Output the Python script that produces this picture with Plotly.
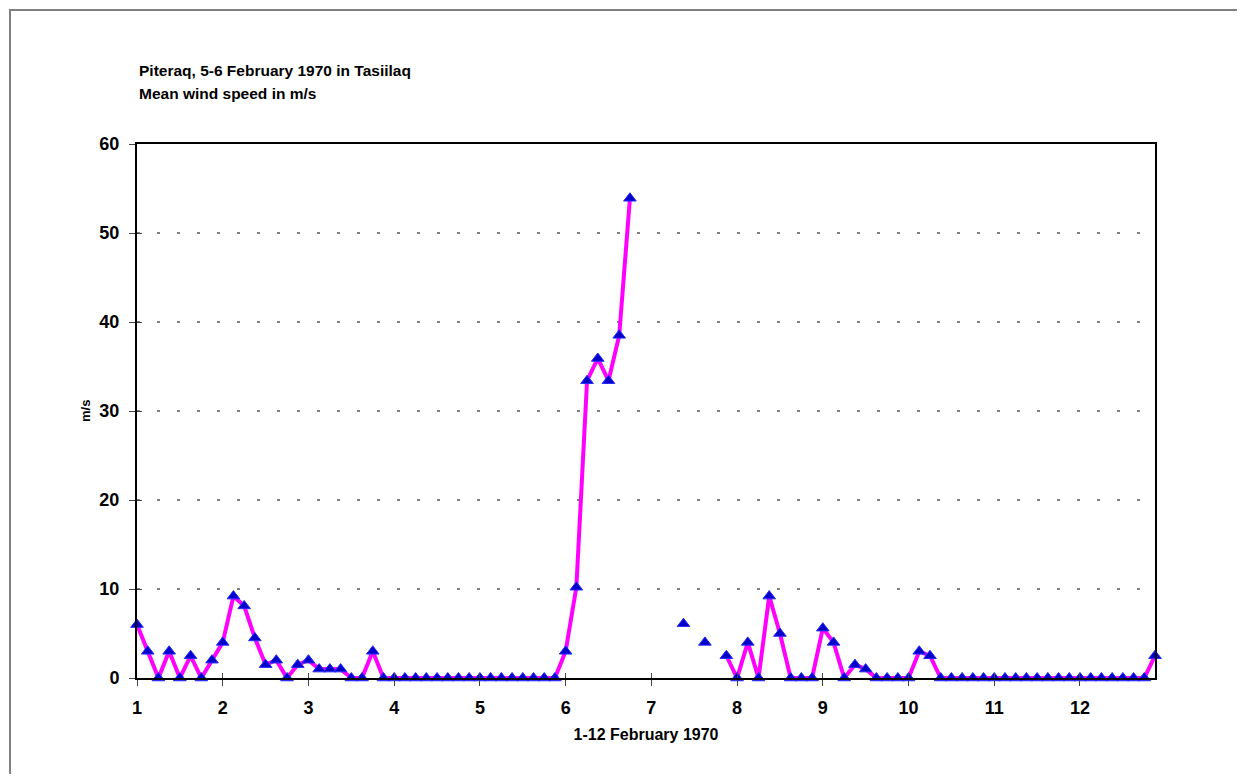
import plotly.graph_objects as go

# 3-hourly mean wind speed (m/s), 1-12 February 1970, Tasiilaq (8 obs per day)
wind = [
    6.0, 3.0, 0, 3.0, 0, 2.5, 0, 2.0,          # 1
    4.0, 9.2, 8.1, 4.5, 1.5, 2.0, 0, 1.5,      # 2
    2.0, 1.0, 1.0, 1.0, 0, 0, 3.0, 0,          # 3
    0, 0, 0, 0, 0, 0, 0, 0,                    # 4
    0, 0, 0, 0, 0, 0, 0, 0,                    # 5
    3.0, 10.2, 33.4, 35.9, 33.4, 38.5, 53.9, None,  # 6
    None, None, None, 6.1, None, 4.0, None, 2.5,    # 7
    0, 4.0, 0, 9.2, 5.0, 0, 0, 0,              # 8
    5.6, 4.0, 0, 1.5, 1.0, 0, 0, 0,            # 9
    0, 3.0, 2.5, 0, 0, 0, 0, 0,                # 10
    0, 0, 0, 0, 0, 0, 0, 0,                    # 11
    0, 0, 0, 0, 0, 0, 0, 2.5,                  # 12
]
day_ticks = [1, 2, 3, 4, 5, 6, 7, 8, 9, 10, 11, 12]
y_ticks = [0, 10, 20, 30, 40, 50, 60]
title_lines = ["Piteraq, 5-6 February 1970 in Tasiilaq", "Mean wind speed in m/s"]

obs_per_day = 8
x = [1 + i / obs_per_day for i in range(len(wind))]

# page body has an 8px margin; figure coordinates are offset accordingly
OFF = 8
W, H = 1245 - 2 * OFF, 782 - 2 * OFF
L, R, T, B = 137 - OFF, 1155 - OFF, 144 - OFF, 678 - OFF
pw, ph = R - L, B - T

FONT = "Liberation Sans, Arial, sans-serif"

fig = go.Figure()
fig.add_trace(go.Scatter(
    x=x, y=wind, mode="lines+markers",
    line=dict(color="#FF00FF", width=4),
    marker=dict(symbol="triangle-up", size=11, color="#0000C8",
                line=dict(color="#2A2AFF", width=1)),
    connectgaps=False, cliponaxis=False, showlegend=False,
))
fig.add_trace(go.Scatter(x=[1], y=[0], xaxis="x2", yaxis="y2",
                         mode="markers", marker=dict(opacity=0),
                         showlegend=False, hoverinfo="skip"))

xr = [1, 1 + (len(wind) - 1) / obs_per_day]

annotations = []
for k, (txt, base) in enumerate(zip(title_lines, [77, 100])):
    annotations.append(dict(
        text="<b>%s</b>" % txt,
        xref="paper", yref="paper", x=0, y=(B - (base - OFF)) / ph,
        xanchor="left", yanchor="bottom", yshift=-4, align="left", showarrow=False,
        font=dict(size=15.5, family=FONT, color="black"),
    ))
annotations.append(dict(
    text="<b>m/s</b>", xref="paper", yref="paper",
    x=(85 - OFF - L) / pw, y=0.5, xanchor="center", yanchor="middle",
    textangle=-90, showarrow=False, font=dict(size=13, family=FONT, color="black"),
))

fig.update_layout(
    width=W, height=H,
    margin=dict(l=L, r=W - R, t=T, b=H - B),
    paper_bgcolor="white", plot_bgcolor="white",
    font=dict(family=FONT, color="black"),
    xaxis=dict(
        range=xr, tickmode="array", tickvals=day_ticks,
        ticktext=[str(d) for d in day_ticks],
        ticks="outside", ticklen=6, tickwidth=1, tickcolor="#444",
        showline=True, linecolor="black", linewidth=2, mirror=True,
        showgrid=False, zeroline=False,
        tickfont=dict(size=18, family=FONT, weight="bold"),
        ticklabelstandoff=6,
        title=dict(text="<b>1-12 February 1970</b>", font=dict(size=16), standoff=12),
    ),
    yaxis=dict(
        range=[0, 60], tickmode="array", tickvals=y_ticks,
        ticks="outside", ticklen=6, tickwidth=1, tickcolor="#444",
        showline=True, linecolor="black", linewidth=2, mirror=True,
        showgrid=True, gridcolor="#808080", gridwidth=1.5, griddash="3px,17px",
        zeroline=False,
        tickfont=dict(size=18, family=FONT, weight="bold"),
        ticklabelstandoff=6,
    ),
    xaxis2=dict(range=xr, overlaying="x", tickmode="array", tickvals=day_ticks,
                ticks="inside", ticklen=5, tickwidth=1, tickcolor="#444",
                showticklabels=False, showgrid=False, zeroline=False, showline=False),
    yaxis2=dict(range=[0, 60], overlaying="y", tickmode="array", tickvals=y_ticks,
                ticks="inside", ticklen=5, tickwidth=1, tickcolor="#444",
                showticklabels=False, showgrid=False, zeroline=False, showline=False),
    annotations=annotations,
    shapes=[dict(
        type="rect", xref="paper", yref="paper",
        x0=(10 - OFF - L) / pw, x1=(W + 60 - L) / pw,
        y0=(B - (H + 60)) / ph, y1=(B - (10 - OFF)) / ph,
        line=dict(color="#808080", width=2), fillcolor="rgba(0,0,0,0)",
        layer="below",
    )],
)

fig.write_html("out.html")
